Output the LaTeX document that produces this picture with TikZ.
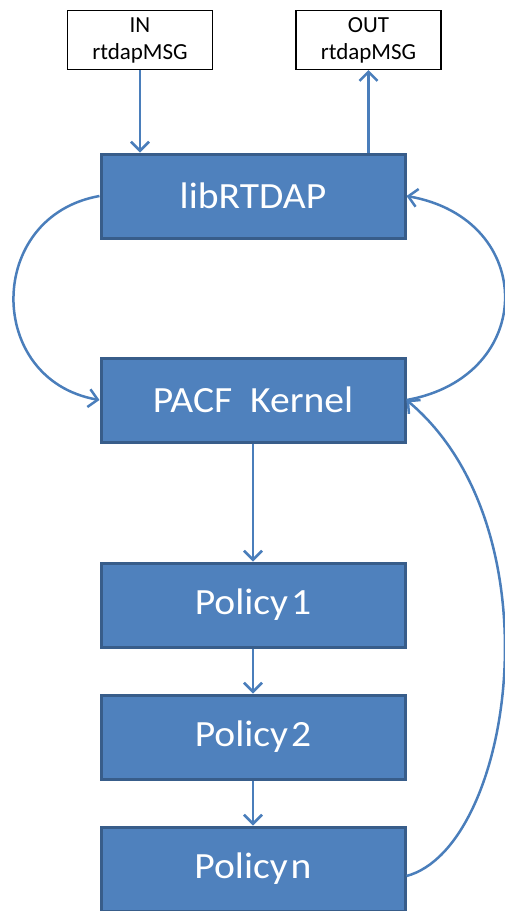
\documentclass[tikz,border=0pt]{standalone}
\usepackage{fontspec}
\setmainfont{Carlito}
\newfontfamily\boxfont[FakeStretch=1.07]{Carlito}
\usetikzlibrary{arrows.meta}
\definecolor{boxfill}{HTML}{4F81BD}
\definecolor{boxline}{HTML}{385D8A}
\definecolor{arrline}{HTML}{4A7EBB}
\tikzset{
  msgbox/.style={draw=black, line width=1.3pt, fill=white, minimum width=145pt, minimum height=59pt, inner sep=0pt, align=center, font=\fontsize{23pt}{27pt}\selectfont},
  bluebox/.style={draw=boxline, line width=3pt, fill=boxfill, minimum width=304pt, minimum height=84pt, inner sep=0pt, text=white, font=\boxfont\fontsize{37pt}{40pt}\selectfont},
  conn/.style={draw=arrline, line width=2.5pt, -{Straight Barb[length=9pt,width=18pt,line width=2.5pt]}}
}
\begin{document}
\begin{tikzpicture}[x=1pt,y=-1pt]
\useasboundingbox (0,0) rectangle (504,911);
\node[msgbox] (in) at (140,40) {IN\\rtdapMSG};
\node[msgbox] (out) at (368.5,40) {OUT\\rtdapMSG};
\node[bluebox] (lib) at (253,196) {libRTDAP};
\node[bluebox] (pacf) at (253,400) {PACF\ \ Kernel};
\node[bluebox] (p1) at (253,605) {Policy\kern3pt 1};
\node[bluebox] (p2) at (253,737) {Policy\kern3pt 2};
\node[bluebox] (pn) at (253,869) {Policy\kern3pt n};
\draw[conn] (in.south) -- (in.south |- lib.north);
\draw[conn] (out.south |- lib.north) -- (out.south);
\draw[conn] (lib.west) .. controls +(170:116) and +(190:116) .. (pacf.west);
\draw[conn] (pacf.east) .. controls +(-10:133) and +(10:133) .. (lib.east);
\draw[conn] (pacf.south) -- (p1.north);
\draw[conn] (p1.south) -- (p2.north);
\draw[conn] (p2.south) -- (pn.north);
\draw[conn] ([yshift=-7pt]pn.east) .. controls +(-15:110) and +(40:200) .. (pacf.east);
\end{tikzpicture}
\end{document}
